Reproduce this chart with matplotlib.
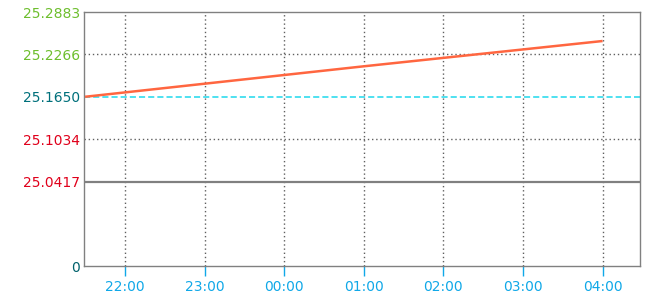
import matplotlib
matplotlib.use("Agg")
import matplotlib.pyplot as plt

# data (hours relative to 22:00)
line_hours = [-0.5, 3.0, 6.0]
line_values = [25.1650, 25.2093, 25.2461]

tick_hours = [0, 1, 2, 3, 4, 5, 6]
tick_labels = ["22:00", "23:00", "00:00", "01:00", "02:00", "03:00", "04:00"]

y_ticks = [24.9184, 25.0417, 25.1034, 25.1650, 25.2266, 25.2883]
y_labels = ["0", "25.0417", "25.1034", "25.1650", "25.2266", "25.2883"]
y_colors = ["#00616B", "#E0001B", "#E0001B", "#00707B", "#6DBE2D", "#6DBE2D"]

base_value = 25.0417
ref_value = 25.1650
grid_values = [25.1034, 25.2266]

fig = plt.figure(figsize=(6.6, 3.0), dpi=100)
ax = fig.add_axes([84.3/660, 1-266.3/300, (640-84.3)/660, (266.3-12)/300])
ax.set_xlim(-0.51, 6.47)
ax.set_ylim(y_ticks[0], y_ticks[-1])

for s in ax.spines.values():
    s.set_color("#808080")
    s.set_linewidth(1.0)

# grid
for gv in grid_values:
    ax.axhline(gv, color="#606060", lw=1.0, ls=(0, (1, 2)), zorder=1)
for th in tick_hours:
    ax.axvline(th, color="#606060", lw=1.0, ls=(0, (1, 2)), zorder=1)
ax.axhline(ref_value, color="#1ED8EC", lw=1.1, ls=(0, (4, 2)), zorder=2)
ax.axhline(base_value, color="#808080", lw=1.6, zorder=2)

ax.plot(line_hours, line_values, color="#FF6640", lw=1.8, zorder=3, solid_capstyle="butt")

ax.set_xticks(tick_hours)
ax.set_xticklabels(tick_labels, color="#10A8E8", fontsize=10)
ax.tick_params(axis="x", direction="out", length=7.2, width=1, color="#10A8E8", pad=2.5)

ax.set_yticks(y_ticks)
ax.set_yticklabels(y_labels, fontsize=10)
for lab, c in zip(ax.get_yticklabels(), y_colors):
    lab.set_color(c)
ax.tick_params(axis="y", length=0, pad=3)

fig.savefig("out.png", dpi=100)
